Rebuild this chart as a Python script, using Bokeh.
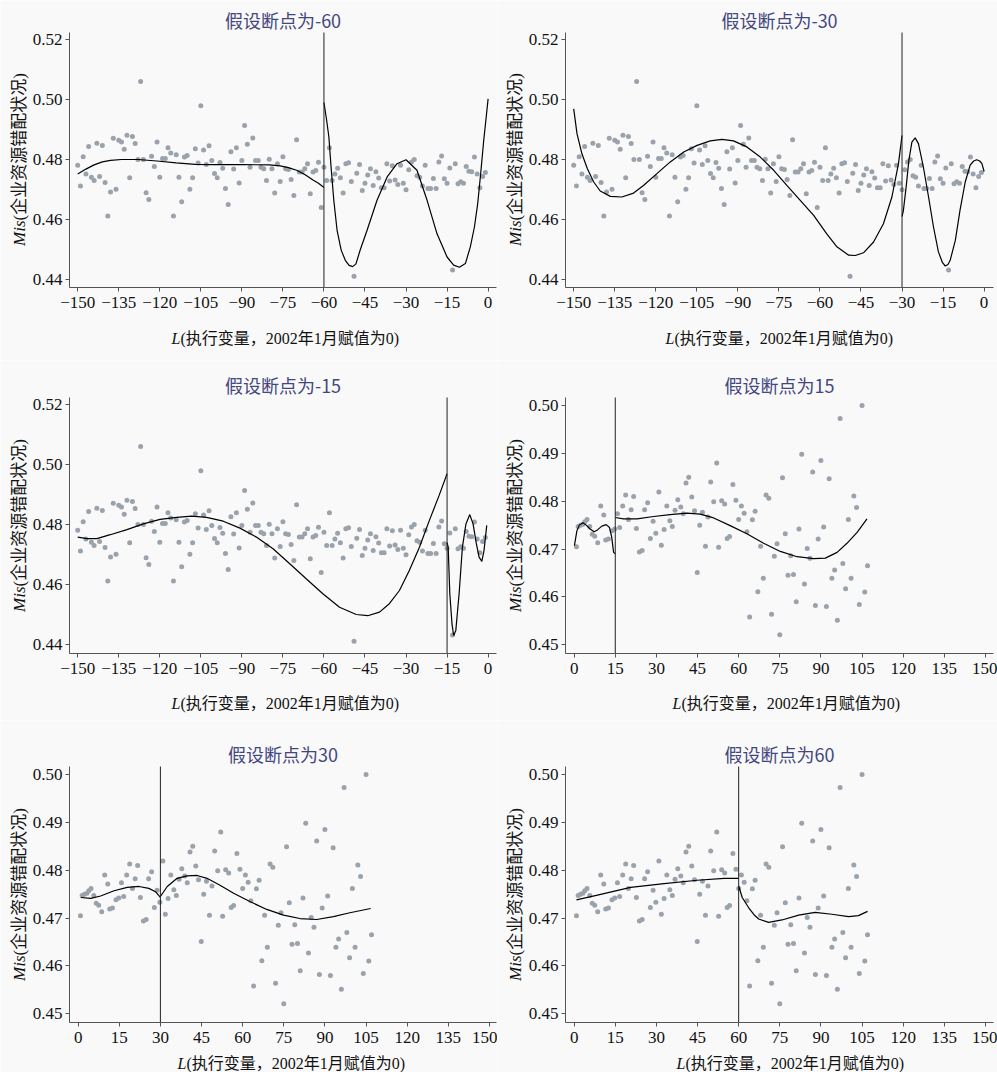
from math import pi
from bokeh.plotting import figure
from bokeh.models import Label, FixedTicker, Range1d, CustomJSTickFormatter
from bokeh.layouts import column, row
from bokeh.embed import file_html
from bokeh.resources import INLINE

# ---------------- data: running variable L < 0 (months -150 .. -1) ----------------
neg_y = [
    0.4781, 0.4712, 0.4809, 0.4752, 0.4843, 0.4741, 0.4730, 0.4854, 0.4743, 0.4847,
    0.4723, 0.4612, 0.4692, 0.4871, 0.4701, 0.4864, 0.4858, 0.4834, 0.4881, 0.4739,
    0.4877, 0.4853, 0.4800, 0.5060, 0.4800, 0.4689, 0.4667, 0.4811, 0.4777, 0.4858,
    0.4741, 0.4803, 0.4803, 0.4839, 0.4822, 0.4612, 0.4816, 0.4741, 0.4659, 0.4808,
    0.4813, 0.4701, 0.4739, 0.4836, 0.4788, 0.4979, 0.4832, 0.4783, 0.4846, 0.4797,
    0.4753, 0.4739, 0.4790, 0.4771, 0.4703, 0.4650, 0.4826, 0.4768, 0.4839, 0.4722,
    0.4797, 0.4913, 0.4851, 0.4774, 0.4872, 0.4797, 0.4797, 0.4774, 0.4769, 0.4730,
    0.4801, 0.4769, 0.4688, 0.4786, 0.4727, 0.4809, 0.4769, 0.4767, 0.4733, 0.4680,
    0.4866, 0.4758, 0.4758, 0.4769, 0.4786, 0.4686, 0.4758, 0.4763, 0.4791, 0.4640,
    0.4774, 0.4730, 0.4839, 0.4730, 0.4752, 0.4771, 0.4739, 0.4688, 0.4786, 0.4789,
    0.4727, 0.4411, 0.4754, 0.4783, 0.4697, 0.4721, 0.4748, 0.4769, 0.4713, 0.4759,
    0.4738, 0.4706, 0.4706, 0.4786, 0.4728, 0.4779, 0.4732, 0.4717, 0.4781, 0.4721,
    0.4699, 0.4766, 0.4792, 0.4800, 0.4746, 0.4741, 0.4712, 0.4781, 0.4703, 0.4703,
    0.4737, 0.4703, 0.4792, 0.4812, 0.4736, 0.4721, 0.4772, 0.4432, 0.4786, 0.4719,
    0.4726, 0.4721, 0.4777, 0.4761, 0.4759, 0.4808, 0.4752, 0.4706, 0.4743, 0.4757,
]
neg_x = list(range(-150, -150 + len(neg_y)))

# ---------------- data: running variable L > 0 ----------------
pos_x = [
    0.85, 1.46, 2.3, 3.2, 3.9, 4.7, 5.7, 6.6, 7.5, 8.6,
    9.7, 10.8, 11.5, 12.5, 13.8, 14.8, 15.8, 16.6, 17.7, 18.8,
    19.8, 20.8, 21.7, 22.7, 23.8, 24.8, 25.7, 26.8, 27.8, 28.8,
    29.8, 30.9, 31.8, 32.8, 33.8, 34.9, 35.8, 36.8, 37.8, 38.9,
    39.8, 40.8, 41.8, 42.9, 43.9, 44.9, 45.8, 46.8, 47.9, 48.8,
    49.8, 50.9, 52.0, 52.7, 53.8, 54.9, 55.8, 56.7, 57.9, 59,
    60, 61, 62, 63, 64, 65, 66, 67, 68, 69,
    70, 71, 72, 73, 74, 75, 76, 77, 78, 79,
    80, 81, 82, 83, 84, 85, 86, 87, 88, 89,
    90, 91, 92, 93, 94, 95, 96, 97, 98, 99,
    100, 101, 102, 103, 104, 105, 106, 107,
]
pos_y = [
    0.4705, 0.4747, 0.4750, 0.4752, 0.4757, 0.4762, 0.4747, 0.4731, 0.4727, 0.4713,
    0.4790, 0.4771, 0.4719, 0.4721, 0.4738, 0.4742, 0.4774, 0.4745, 0.4790, 0.4813,
    0.4762, 0.4782, 0.4810, 0.4743, 0.4694, 0.4697, 0.4782, 0.4797, 0.4722, 0.4758,
    0.4733, 0.4819, 0.4708, 0.4741, 0.4790, 0.4759, 0.4747, 0.4781, 0.4803, 0.4788,
    0.4774, 0.4838, 0.4850, 0.4809, 0.4780, 0.4651, 0.4750, 0.4777, 0.4706, 0.4767,
    0.4840, 0.4799, 0.4880, 0.4704, 0.4801, 0.4794, 0.4722, 0.4726, 0.4835, 0.4802,
    0.4762, 0.4790, 0.4775, 0.4736, 0.4558, 0.4761, 0.4779, 0.4611, 0.4706, 0.4639,
    0.4813, 0.4806, 0.4564, 0.4685, 0.4711, 0.4521, 0.4849, 0.4732, 0.4645, 0.4686,
    0.4647, 0.4590, 0.4742, 0.4898, 0.4627, 0.4701, 0.4681, 0.4861, 0.4582, 0.4721,
    0.4885, 0.4746, 0.4580, 0.4847, 0.4639, 0.4656, 0.4551, 0.4973, 0.4670, 0.4617,
    0.4762, 0.4639, 0.4811, 0.4787, 0.4584, 0.5000, 0.4610, 0.4665,
]

# ---------------- fitted curves ----------------
c60_lx = [-150, -147, -144, -141, -138, -134, -128, -121, -114, -107, -100, -90, -80, -76, -73, -70, -67, -64, -62, -60]
c60_ly = [0.4752, 0.4768, 0.4782, 0.4792, 0.4797, 0.4800, 0.4800, 0.4795, 0.4789, 0.4784, 0.4783, 0.4783, 0.4782, 0.4779, 0.4773, 0.4764, 0.4750, 0.4732, 0.4721, 0.4707]
c60_rx = [-60, -59, -58.2, -57.4, -56.4, -55.2, -53.7, -52.2, -50.8, -49.5, -48.3, -46.7, -44.2, -40.6, -36.9, -33.3, -30, -26, -22.3, -18.7, -15, -12.6, -10.5, -8.3, -6.5, -5, -3.8, -2.6, -1.6, -0.7, 0]
c60_ry = [0.4990, 0.4930, 0.4875, 0.4775, 0.4664, 0.4564, 0.4498, 0.4464, 0.4447, 0.4443, 0.4452, 0.4500, 0.4565, 0.4664, 0.4742, 0.4786, 0.4799, 0.4764, 0.4664, 0.4553, 0.4475, 0.4448, 0.4441, 0.4453, 0.4509, 0.4575, 0.4653, 0.4764, 0.4864, 0.4941, 0.5002]

c30_lx = [-150, -148.8, -147, -145, -142.7, -140.3, -136.6, -132.4, -128.1, -124.4, -119.6, -114.7, -109.8, -104.9, -100.1, -95.8, -91.6, -86.7, -81.8, -76.9, -72.1, -67.2, -62.3, -57.5, -53.8, -49.5, -47.1, -44.1, -40.4, -36.8, -33.7, -31.3, -30]
c30_ly = [0.4969, 0.4886, 0.4819, 0.4769, 0.4725, 0.4695, 0.4677, 0.4675, 0.4688, 0.4714, 0.4753, 0.4792, 0.4825, 0.4847, 0.4862, 0.4867, 0.4862, 0.4842, 0.4808, 0.4764, 0.4714, 0.4664, 0.4614, 0.4552, 0.4509, 0.4481, 0.4480, 0.4489, 0.4525, 0.4586, 0.4675, 0.4786, 0.4880]
c30_rx = [-30, -29.5, -28.5, -27.5, -26.4, -25.2, -24.0, -22.2, -20.3, -18.5, -16.7, -15.2, -14.2, -13.2, -12.4, -10.5, -8.8, -6.9, -5.1, -3.8, -2.7, -1.6, -0.8, 0]
c30_ry = [0.4610, 0.4630, 0.4708, 0.4797, 0.4858, 0.4872, 0.4853, 0.4775, 0.4675, 0.4575, 0.4492, 0.4456, 0.4445, 0.4450, 0.4464, 0.4531, 0.4631, 0.4725, 0.4781, 0.4795, 0.4799, 0.4795, 0.4786, 0.4760]

c15_lx = [-150, -146.6, -143, -138.1, -132, -126, -119.9, -113.8, -108.3, -102.9, -96.8, -90.7, -84.7, -78.6, -72.5, -66.5, -60.4, -54.3, -48.2, -44, -39.7, -36.1, -32.4, -28.8, -25.1, -21.5, -17.9, -15]
c15_ly = [0.4758, 0.4753, 0.4753, 0.4766, 0.4783, 0.4802, 0.4817, 0.4824, 0.4828, 0.4824, 0.4811, 0.4788, 0.4758, 0.4719, 0.4669, 0.4619, 0.4569, 0.4524, 0.4500, 0.4496, 0.4508, 0.4536, 0.4580, 0.4647, 0.4724, 0.4813, 0.4897, 0.4969]
c15_rx = [-15, -14.6, -14.0, -13.2, -12.6, -11.8, -10.6, -9.4, -8.1, -6.7, -5.5, -4.3, -3.3, -2.3, -1.5, -0.5]
c15_ry = [0.4740, 0.4724, 0.4569, 0.4469, 0.4430, 0.4447, 0.4569, 0.4724, 0.4802, 0.4833, 0.4802, 0.4736, 0.4691, 0.4677, 0.4713, 0.4797]

p15_lx = [0.1, 1.0, 1.9, 3.2, 4.4, 5.8, 7.3, 8.5, 10.1, 11.7, 12.9, 13.7, 14.4, 15]
p15_ly = [0.4707, 0.4738, 0.4750, 0.4755, 0.4750, 0.4742, 0.4736, 0.4740, 0.4748, 0.4751, 0.4745, 0.4725, 0.4693, 0.4690]
p15_rx = [15, 18, 22.9, 29, 35, 41.1, 46, 50.9, 56.9, 63, 69.1, 75.2, 81.3, 87.3, 91.6, 95.9, 99.5, 103.2, 106.8]
p15_ry = [0.4766, 0.4763, 0.4763, 0.4768, 0.4772, 0.4775, 0.4773, 0.4765, 0.4749, 0.4732, 0.4712, 0.4695, 0.4684, 0.4680, 0.4681, 0.4693, 0.4712, 0.4735, 0.4763]

p30_lx = [1, 4.6, 8.2, 13.1, 17.9, 22.2, 25.8, 28.2, 30]
p30_ly = [0.4743, 0.4741, 0.4746, 0.4757, 0.4764, 0.4766, 0.4762, 0.4755, 0.4743]
p30_rx = [30, 32.5, 36.1, 39.7, 43.4, 47, 51.9, 56.7, 62.8, 68.8, 74.9, 80.9, 87, 93.1, 99.1, 106.7]
p30_ry = [0.4745, 0.4766, 0.4783, 0.4788, 0.4789, 0.4783, 0.4768, 0.4752, 0.4734, 0.4718, 0.4706, 0.4699, 0.4697, 0.4703, 0.4711, 0.4720]

p60_lx = [0.85, 8.5, 20.6, 32.8, 44.9, 54.7, 60]
p60_ly = [0.4738, 0.4748, 0.4764, 0.4772, 0.4779, 0.4783, 0.4783]
p60_rx = [60, 61.3, 63.6, 65.6, 67.3, 70.9, 75.8, 81.9, 87.9, 94, 100.1, 103.7, 107]
p60_ry = [0.4767, 0.4743, 0.4722, 0.4707, 0.4698, 0.4691, 0.4696, 0.4706, 0.4712, 0.4708, 0.4703, 0.4705, 0.4714]

# ---------------- ticks / texts ----------------
neg_xticks = [-150, -135, -120, -105, -90, -75, -60, -45, -30, -15, 0]
neg_xtick_labels = ["\u2212150", "\u2212135", "\u2212120", "\u2212105", "\u221290", "\u221275",
                    "\u221260", "\u221245", "\u221230", "\u221215", "0"]
pos_xticks = [0, 15, 30, 45, 60, 75, 90, 105, 120, 135, 150]
pos_xtick_labels = ["0", "15", "30", "45", "60", "75", "90", "105", "120", "135", "150"]
neg_yticks = [0.44, 0.46, 0.48, 0.50, 0.52]
neg_ytick_labels = ["0.44", "0.46", "0.48", "0.50", "0.52"]
pos_yticks = [0.45, 0.46, 0.47, 0.48, 0.49, 0.50]
pos_ytick_labels = ["0.45", "0.46", "0.47", "0.48", "0.49", "0.50"]

titles = ["假设断点为-60", "假设断点为-30", "假设断点为-15", "假设断点为15", "假设断点为30", "假设断点为60"]
cutoffs = [-60, -30, -15, 15, 30, 60]
ylab_italic = "Mis"
ylab_rest = "(企业资源错配状况)"
xlab_italic = "L"
xlab_rest = "(执行变量，2002年1月赋值为0)"

BG = "#f9f9f9"
PT = "#9aa2ab"
AX = "#555555"
SERIF = "Liberation Serif, Noto Sans CJK SC"
SANS = "Noto Sans CJK SC"
TITLE_C = "#43477f"

# (height, box top, box bottom margin, x-title distance below box)
ROWS = [(360, 32, 73, 51), (360, 37, 67, 50), (352, 46, 50, 41)]
XSPLIT = [111, 109, 111, 116, 117, 120]

LABEL_JS = """
for (let k = 0; k < tvals.length; k++) {
    if (Math.abs(tvals[k] - tick) < 1e-9) { return tlabels[k]; }
}
return String(tick);
"""


def make_panel(i, side, lx, ly, rx, ry):
    col = i % 2
    rowi = i // 2
    W = 497 if col == 0 else 500
    lb = 69 if col == 0 else 68
    rb = 1 if col == 0 else 4
    H, tb, bb, xl_dy = ROWS[rowi]
    fw = W - lb - rb          # axes box width (px)
    fh = H - tb - bb          # axes box height (px)
    if side == "neg":
        kx, box_x0 = 2.736, -153.0
        ky, box_y1 = 3000.0, 0.52 + 7 / 3000.0
        xt, xtl, yt, ytl = neg_xticks, neg_xtick_labels, neg_yticks, neg_ytick_labels
        sx, sy = neg_x, neg_y
    else:
        kx, box_x0 = 2.742, -3.15
        ky, box_y1 = 4785.0, 0.50 + 8 / 4785.0
        xt, xtl, yt, ytl = pos_xticks, pos_xtick_labels, pos_yticks, pos_ytick_labels
        sx, sy = pos_x, pos_y
    box_x1 = box_x0 + fw / kx
    box_y0 = box_y1 - fh / ky
    # the frame covers the whole figure; axes sit at the box edges
    x_start = box_x0 - lb / kx
    y_end = box_y1 + tb / ky
    xr = Range1d(x_start, x_start + W / kx)
    yr = Range1d(y_end - H / ky, y_end)

    p = figure(width=W, height=H, x_range=xr, y_range=yr,
               output_backend="svg", toolbar_location=None,
               min_border_left=0, min_border_right=0,
               min_border_top=0, min_border_bottom=0)
    p.background_fill_color = BG
    p.border_fill_color = BG
    p.outline_line_color = None
    p.grid.visible = False

    p.xaxis[0].fixed_location = box_y0
    p.xaxis[0].bounds = (box_x0, box_x1)
    p.yaxis[0].fixed_location = box_x0
    p.yaxis[0].bounds = (box_y0, box_y1)
    for ax, tv, tl in ((p.xaxis[0], xt, xtl), (p.yaxis[0], yt, ytl)):
        ax.ticker = FixedTicker(ticks=tv)
        ax.formatter = CustomJSTickFormatter(args=dict(tvals=tv, tlabels=tl), code=LABEL_JS)
        ax.minor_tick_line_color = None
        ax.major_tick_in = 0
        ax.major_tick_out = 4
        ax.major_tick_line_color = AX
        ax.axis_line_color = AX
        ax.major_label_text_font = "Liberation Serif"
        ax.major_label_text_font_size = "17px"
        ax.major_label_text_color = "#111111"
        ax.major_label_standoff = 3
    p.xaxis[0].major_label_standoff = 5

    p.scatter(sx, sy, size=5, color=PT, line_color=None)
    p.line(lx, ly, line_color="black", line_width=1.2)
    p.line(rx, ry, line_color="black", line_width=1.2)
    # cutoff line, from the x axis to the top of the axes box
    p.segment(x0=[cutoffs[i]], y0=[box_y0], x1=[cutoffs[i]], y1=[box_y1],
              line_color="#222222", line_width=1)

    # title (screen units: from the figure's bottom-left)
    p.add_layout(Label(x=lb + fw / 2, y=H - (tb - 13), x_units="screen", y_units="screen",
                       text=titles[i], text_font=SANS, text_font_size="18px",
                       text_color=TITLE_C, text_align="center", text_baseline="middle"))
    # x axis title
    xs_ = lb + XSPLIT[i]
    ys_ = bb - xl_dy
    p.add_layout(Label(x=xs_, y=ys_, x_units="screen", y_units="screen",
                       text=xlab_italic, text_font=SERIF, text_font_style="italic",
                       text_font_size="16px", text_color="#111111",
                       text_align="right", text_baseline="middle"))
    p.add_layout(Label(x=xs_, y=ys_, x_units="screen", y_units="screen",
                       text=xlab_rest, text_font=SERIF,
                       text_font_size="16px", text_color="#111111",
                       text_align="left", text_baseline="middle"))
    # y axis title
    yx = lb - 50
    yy = bb + 67
    p.add_layout(Label(x=yx, y=yy, x_units="screen", y_units="screen", angle=pi / 2,
                       text=ylab_italic, text_font=SERIF, text_font_style="italic",
                       text_font_size="17px", text_color="#111111",
                       text_align="right", text_baseline="middle"))
    p.add_layout(Label(x=yx, y=yy, x_units="screen", y_units="screen", angle=pi / 2,
                       text=ylab_rest, text_font=SERIF,
                       text_font_size="17px", text_color="#111111",
                       text_align="left", text_baseline="middle"))
    return p


panels = [
    make_panel(0, "neg", c60_lx, c60_ly, c60_rx, c60_ry),
    make_panel(1, "neg", c30_lx, c30_ly, c30_rx, c30_ry),
    make_panel(2, "neg", c15_lx, c15_ly, c15_rx, c15_ry),
    make_panel(3, "pos", p15_lx, p15_ly, p15_rx, p15_ry),
    make_panel(4, "pos", p30_lx, p30_ly, p30_rx, p30_ry),
    make_panel(5, "pos", p60_lx, p60_ly, p60_rx, p60_ry),
]

layout = column(row(panels[0], panels[1]), row(panels[2], panels[3]), row(panels[4], panels[5]))

open("out.html", "w").write(file_html(layout, INLINE))
